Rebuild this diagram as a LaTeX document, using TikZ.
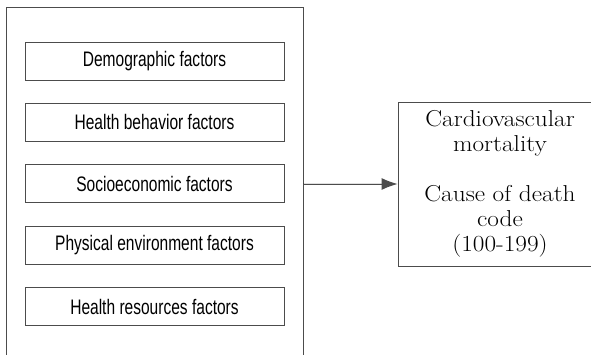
\documentclass[tikz,border=0pt]{standalone}
\usepackage{fontspec}
\newfontfamily\narrowsans[FakeStretch=0.74]{Liberation Sans}
\newfontfamily\widelm[FakeStretch=1.1]{Latin Modern Roman}
\usetikzlibrary{positioning, arrows.meta}

\begin{document}
\begin{tikzpicture}[
    x=1pt, y=-1pt,
    line width=0.9pt,
    factor/.style={
        draw=black!70,
        rectangle,
        minimum width=259pt,
        minimum height=38pt,
        inner sep=0pt,
        font=\narrowsans\fontsize{21}{25}\selectfont
    },
    outcome/.style={
        draw=black!70,
        rectangle,
        minimum width=204pt,
        minimum height=164pt,
        inner sep=0pt,
        align=center,
        font=\widelm\fontsize{23}{25}\selectfont
    },
    arrow/.style={-{Latex[length=16pt, width=12pt]}, draw=black!70, fill=black},
    node distance=22.5pt
]
\useasboundingbox (0,0) rectangle (591,355);

% Factor boxes
\node[factor] (demo) at (154.5,61) {Demographic factors};
\node[factor, below=of demo] (behav) {Health behavior factors};
\node[factor, below=of behav] (socio) {Socioeconomic factors};
\node[factor, below=of socio] (phys) {Physical environment factors};
\node[factor, below=of phys] (resrc) {Health resources factors};

% Open frame round the factors
\coordinate (frametl) at (6,7);
\coordinate (frametr) at (303,7);
\draw[draw=black!70] (6,360) -- (frametl) -- (frametr) -- (303,360);

% Outcome
\node[outcome] (mort) at (500,184) {%
    Cardiovascular\\
    mortality\\[25pt]
    Cause of death\\
    code\\
    (100-199)
};

% Connection to outcome
\draw[arrow] (frametr |- mort.west) -- (mort.west);

\end{tikzpicture}
\end{document}
